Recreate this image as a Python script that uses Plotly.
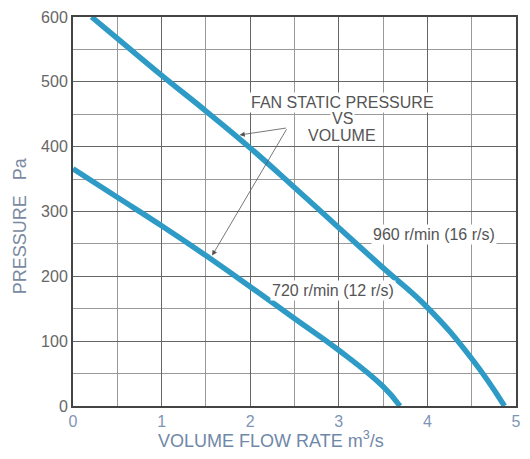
import plotly.graph_objects as go

# 960 r/min curve
flow_960 = [0.21, 0.5, 1.0, 1.5, 2.0, 2.5, 3.0, 3.5, 4.0, 4.5, 4.87]
pres_960 = [600, 567, 510, 455, 398, 337, 275, 213, 152, 73, 0]
# 720 r/min curve
flow_720 = [0.0, 0.5, 1.0, 1.5, 2.0, 2.5, 3.0, 3.5, 3.69]
pres_720 = [366, 322, 278, 232, 184, 135, 86, 30, 0]

x_ticks = [0, 1, 2, 3, 4, 5]
y_ticks = [0, 100, 200, 300, 400, 500, 600]

line_col = "#2e9bc6"
font = "Liberation Sans, Arial, sans-serif"
txt_col = "#555"

fig = go.Figure()
for fx, py in [(flow_960, pres_960), (flow_720, pres_720)]:
    fig.add_trace(go.Scatter(x=fx, y=py, mode="lines",
                             line=dict(color=line_col, width=5.5, shape="spline", smoothing=1.3),
                             hoverinfo="skip"))

title_lines = [("FAN STATIC PRESSURE", 468), ("VS", 443), ("VOLUME", 418)]
for t, yy in title_lines:
    fig.add_annotation(x=3.04, y=yy, text=t, showarrow=False,
                       font=dict(family=font, size=16, color=txt_col),
                       bgcolor="white", borderpad=1)
for hx, hy in [(1.88, 418), (1.57, 232)]:
    fig.add_annotation(x=hx, y=hy, ax=2.42, ay=429, xref="x", yref="y",
                       axref="x", ayref="y", text="", showarrow=True,
                       arrowhead=2, arrowsize=1.3, arrowwidth=0.8, arrowcolor=txt_col)
fig.add_annotation(x=4.08, y=264, text="960 r/min (16 r/s)", showarrow=False,
                   font=dict(family=font, size=16, color=txt_col), bgcolor="white", borderpad=1)
fig.add_annotation(x=2.94, y=178, text="720 r/min (12 r/s)", showarrow=False,
                   font=dict(family=font, size=16, color=txt_col), bgcolor="white", borderpad=1)

# axis titles
fig.add_annotation(xref="paper", yref="paper", x=(274 - 73) / 449, y=(406 - 440) / 390,
                   text="VOLUME FLOW RATE m<sup>3</sup>/s", showarrow=False,
                   xanchor="center", yanchor="middle",
                   font=dict(family=font, size=18, color="#7088a8"))
fig.add_annotation(xref="paper", yref="paper", x=(20 - 73) / 449, y=(406 - 225) / 390,
                   text="PRESSURE   Pa", showarrow=False, textangle=-90,
                   xanchor="center", yanchor="middle",
                   font=dict(family=font, size=18, color="#7a8aa0"))

fig.update_layout(
    width=530, height=459,
    margin=dict(l=73, r=9, t=16, b=53),
    plot_bgcolor="white", paper_bgcolor="white",
    showlegend=False,
    font=dict(family=font),
)
fig.update_xaxes(range=[0, 5], tickvals=x_ticks, ticktext=[str(v) for v in x_ticks],
                 showgrid=True, gridcolor="#666", gridwidth=1,
                 minor=dict(dtick=0.5, showgrid=True, gridcolor="#999", gridwidth=1),
                 showline=True, linecolor="#444", linewidth=2, mirror=True,
                 zeroline=False, ticks="",
                 tickfont=dict(size=16, color="#8095b5"))
fig.update_yaxes(range=[0, 600], tickvals=y_ticks, ticktext=[str(v) for v in y_ticks],
                 showgrid=True, gridcolor="#666", gridwidth=1,
                 minor=dict(dtick=50, showgrid=True, gridcolor="#999", gridwidth=1),
                 showline=True, linecolor="#444", linewidth=2, mirror=True,
                 zeroline=False, ticks="",
                 tickfont=dict(size=16, color="#666"))

fig.write_html("out.html")
